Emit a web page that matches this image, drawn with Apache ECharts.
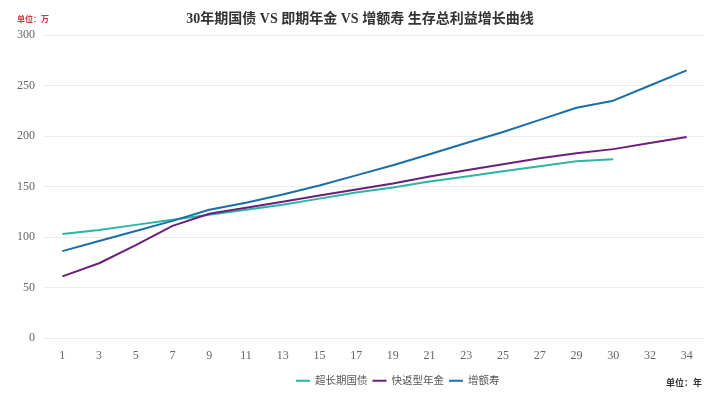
<!DOCTYPE html>
<html><head><meta charset="utf-8">
<script src="https://cdn.jsdelivr.net/npm/echarts@6/dist/echarts.min.js"></script>
<style>html,body{margin:0;padding:0;background:#fff}#c{width:720px;height:394px}</style>
</head><body><div id="c"></div>
<script>
const categories = ['1','3','5','7','9','11','13','15','17','19','21','23','25','27','29','30','32','34'];
const bondValues = [103,107,112,117,122,127,132,138,144,149,155,160,165,170,175,177];
const annuityValues = [61,74,92,111,123,129,135,141,147,153,160,166,172,178,183,187,193,199];
const wholeLifeValues = [86,96,106,116,127,134,142,151,161,171,182,193,204,216,228,235,250,265];
const seriesNames = ['超长期国债','快返型年金','增额寿'];
const yTicks = {min:0, max:300, interval:50};

const serif = "'Liberation Serif','DejaVu Serif','Noto Sans CJK SC',serif";
const chart = echarts.init(document.getElementById('c'));
chart.setOption({
  animation:false,
  color:['#2ab5a5','#6c1f7a','#1a6ea8'],
  title:[
    {text:'30年期国债 VS 即期年金 VS 增额寿 生存总利益增长曲线', left:'center', top:7,
     textStyle:{fontSize:14, fontWeight:'bold', color:'#333', fontFamily:serif}},
    {text:'单位：万', left:12, top:10, textStyle:{fontSize:8, fontWeight:'bold', color:'#d0343c', fontFamily:"'Noto Sans CJK SC',sans-serif"}},
    {text:'单位：年', left:661, top:373, textStyle:{fontSize:9, fontWeight:'bold', color:'#333', fontFamily:"'Noto Sans CJK SC',sans-serif"}}
  ],
  legend:{bottom:3, left:291, itemWidth:14, itemHeight:2, itemGap:5, icon:'rect',
    textStyle:{fontSize:10.5, color:'#555', fontFamily:serif},
    data:seriesNames},
  grid:{left:44, right:15, top:35, bottom:56},
  xAxis:{type:'category', data:categories, boundaryGap:true,
    axisLine:{show:false}, axisTick:{show:false},
    axisLabel:{color:'#666', fontSize:12, fontFamily:serif, margin:12}},
  yAxis:{type:'value', min:yTicks.min, max:yTicks.max, interval:yTicks.interval,
    axisLine:{show:false}, axisTick:{show:false},
    axisLabel:{color:'#666', fontSize:12, fontFamily:serif, margin:9},
    splitLine:{lineStyle:{color:'#ececec'}}},
  series:[
    {name:seriesNames[0], type:'line', data:bondValues, showSymbol:false, lineStyle:{width:2}},
    {name:seriesNames[1], type:'line', data:annuityValues, showSymbol:false, lineStyle:{width:2}},
    {name:seriesNames[2], type:'line', data:wholeLifeValues, showSymbol:false, lineStyle:{width:2}}
  ]
});
</script></body></html>
